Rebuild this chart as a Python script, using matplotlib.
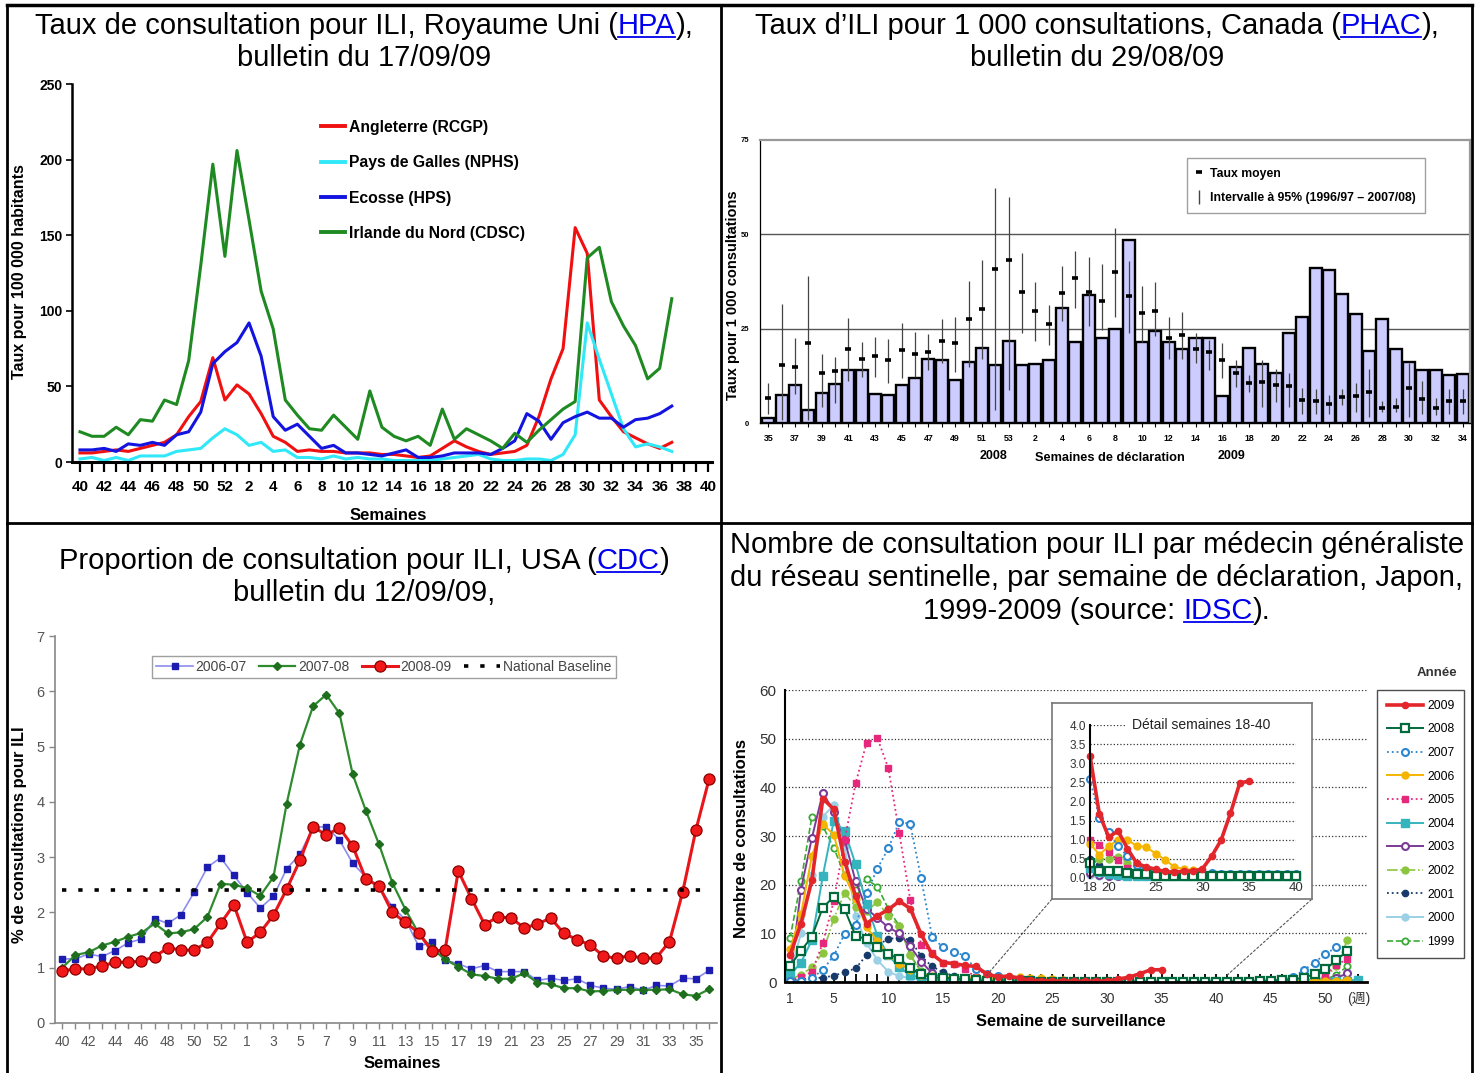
import numpy as np
import matplotlib
matplotlib.use('Agg')
import matplotlib.pyplot as plt
from matplotlib.lines import Line2D
from matplotlib.patches import ConnectionPatch, Rectangle

plt.rcParams['font.family'] = ['Liberation Sans', 'DejaVu Sans']
NARROW = ['Liberation Sans Narrow', 'Liberation Sans', 'Noto Sans CJK JP']

# ---------------- Royaume Uni (HPA) ----------------
uk_weeks = list(range(40, 53)) + list(range(1, 41))
uk_angleterre = [6, 6, 7, 8, 7, 9, 11, 13, 18, 30,
                 40, 69, 41, 51, 45, 32, 17, 13, 7, 8,
                 7, 7, 6, 6, 6, 5, 5, 4, 3, 4,
                 9, 14, 10, 7, 5, 6, 7, 11, 30, 55,
                 75, 155, 138, 41, 30, 20, 16, 12, 9, 13]
uk_galles = [2, 3, 1, 3, 1, 4, 4, 4, 7, 8,
             9, 16, 22, 18, 11, 13, 7, 8, 3, 3,
             2, 4, 2, 3, 2, 2, 1, 1, 1, 1,
             2, 3, 4, 5, 2, 1, 1, 2, 2, 1,
             5, 18, 92, 68, 45, 22, 10, 12, 10, 7]
uk_ecosse = [8, 8, 9, 7, 12, 11, 13, 11, 18, 20,
             33, 65, 73, 79, 92, 70, 30, 21, 25, 17,
             9, 11, 6, 6, 5, 4, 6, 8, 3, 3,
             4, 6, 6, 6, 5, 9, 14, 32, 27, 15,
             26, 30, 33, 29, 29, 23, 28, 29, 32, 37]
uk_irlande = [20, 17, 17, 23, 18, 28, 27, 41, 38, 67,
              130, 197, 136, 206, 160, 113, 88, 41, 31, 22,
              21, 31, 23, 15, 47, 23, 17, 14, 17, 11,
              35, 15, 22, 18, 14, 9, 19, 13, 21, 28,
              35, 40, 135, 142, 106, 90, 77, 55, 62, 108]
uk_labels = ['Angleterre (RCGP)', 'Pays de Galles (NPHS)', 'Ecosse (HPS)', 'Irlande du Nord (CDSC)']

# ---------------- Canada (PHAC) ----------------
ca_weeks = list(range(35, 54)) + list(range(1, 35))
ca_rate = [1.4, 7.4, 10.2, 3.4, 8.0, 10.3, 14.0, 14.0, 7.6, 7.4,
           10.0, 12.0, 17.0, 16.7, 11.3, 16.2, 19.8, 15.4, 21.7, 15.5,
           15.6, 16.7, 30.5, 21.5, 33.8, 22.6, 24.8, 48.5, 21.5, 24.3,
           21.5, 19.7, 22.6, 22.4, 7.1, 14.8, 19.8, 15.6, 13.3, 23.9,
           28.2, 41.2, 40.5, 34.3, 29.0, 19.1, 27.5, 19.7, 16.2, 14.0,
           14.0, 12.7, 12.9]
ca_mean = [6.6, 15.5, 14.9, 21.1, 13.3, 13.8, 19.6, 16.9, 17.8, 16.7,
           19.4, 18.2, 18.7, 21.6, 21.1, 27.5, 30.2, 40.7, 43.3, 34.6,
           29.6, 26.3, 34.4, 38.3, 34.8, 32.3, 40.1, 33.6, 29.1, 29.6,
           22.6, 23.2, 19.5, 18.7, 16.6, 13.2, 10.6, 10.8, 10.2, 9.8,
           6.2, 5.8, 5.0, 6.9, 7.2, 8.2, 4.0, 4.3, 9.2, 6.4,
           4.0, 5.9, 5.9]
ca_low = [2.5, 0.7, 7.8, 0.7, 4.3, 5.2, 11.2, 12.3, 12.3, 10.5,
          11.8, 12.3, 14.0, 15.8, 13.6, 14.9, 16.9, 3.4, 8.7, 23.8,
          21.6, 20.7, 26.9, 30.5, 25.6, 24.7, 28.0, 23.8, 21.5, 23.1,
          17.0, 17.0, 15.8, 14.0, 11.8, 9.6, 8.3, 4.3, 5.6, 4.3,
          2.5, 2.5, 2.5, 4.7, 2.9, 1.6, 2.9, 2.9, 1.6, 2.5,
          2.0, 2.5, 2.5]
ca_high = [10.5, 31.6, 22.6, 38.9, 18.3, 17.4, 27.8, 21.4, 22.7, 22.2,
           26.6, 24.2, 23.6, 27.6, 28.1, 37.6, 43.2, 62.4, 60.0, 45.1,
           37.3, 31.3, 41.6, 45.6, 44.0, 42.1, 51.6, 42.9, 36.4, 37.3,
           28.1, 29.5, 23.8, 21.9, 21.1, 16.7, 12.7, 16.7, 14.2, 13.3,
           9.4, 9.1, 7.3, 9.1, 10.7, 14.2, 5.9, 6.7, 15.8, 11.2,
           6.7, 8.9, 9.1]

# ---------------- USA (CDC) ----------------
us_weeks = list(range(40, 54)) + list(range(1, 37))
us_2006 = [1.16, 1.16, 1.25, 1.2, 1.31, 1.45, 1.52, 1.89, 1.8, 1.96,
           2.37, 2.82, 2.99, 2.67, 2.36, 2.08, 2.29, 2.79, 3.05, 3.54,
           3.55, 3.31, 2.89, 2.64, 2.47, 2.1, 1.87, 1.39, 1.46, 1.14,
           1.07, 0.98, 1.04, 0.93, 0.93, 0.93, 0.77, 0.81, 0.77, 0.8,
           0.68, 0.63, 0.61, 0.66, 0.59, 0.68, 0.67, 0.81, 0.8, 0.95]
us_2007 = [1.0, 1.23, 1.28, 1.4, 1.47, 1.56, 1.63, 1.8, 1.62, 1.64,
           1.7, 1.92, 2.52, 2.5, 2.44, 2.3, 2.64, 3.97, 5.03, 5.73,
           5.94, 5.6, 4.5, 3.84, 3.23, 2.54, 2.05, 1.62, 1.35, 1.15,
           1.02, 0.88, 0.85, 0.8, 0.8, 0.9, 0.73, 0.7, 0.63, 0.63,
           0.57, 0.58, 0.6, 0.6, 0.6, 0.6, 0.61, 0.52, 0.49, 0.61]
us_2008 = [0.94, 0.98, 0.98, 1.03, 1.1, 1.1, 1.12, 1.2, 1.36, 1.32,
           1.32, 1.46, 1.8, 2.14, 1.46, 1.64, 1.95, 2.42, 2.94, 3.55,
           3.4, 3.53, 3.2, 2.6, 2.48, 2.0, 1.82, 1.63, 1.3, 1.32,
           2.75, 2.25, 1.78, 1.92, 1.9, 1.72, 1.79, 1.9, 1.62, 1.51,
           1.41, 1.21, 1.17, 1.22, 1.17, 1.18, 1.47, 2.37, 3.49, 4.41]
us_baseline = 2.4

# ---------------- Japon (IDSC) ----------------
jp_weeks = list(range(1, 54))
jp_2009 = [5.5, 12.0, 20.9, 37.7, 35.5, 24.7, 17.7, 12.0, 13.6, 14.9,
           16.6, 15.1, 9.8, 5.7, 4.0, 3.8, 3.4, 3.2, 1.67, 1.07,
           1.23, 0.77, 0.38, 0.29, 0.23, 0.17, 0.15, 0.18, 0.18, 0.24,
           0.57, 0.99, 1.69, 2.49, 2.53]
jp_2008 = [3.3, 6.4, 9.3, 15.3, 17.5, 14.9, 9.5, 8.8, 7.2, 5.7,
           4.8, 2.9, 1.6, 0.9, 0.9, 0.7, 0.6, 0.4, 0.18, 0.18,
           0.18, 0.13, 0.11, 0.1, 0.06, 0.05, 0.04, 0.04, 0.04, 0.04,
           0.04, 0.04, 0.04, 0.04, 0.04, 0.04, 0.04, 0.04, 0.04, 0.04,
           0.05, 0.05, 0.1, 0.2, 0.3, 0.4, 0.5, 0.9, 1.6, 2.6,
           4.5, 6.4]
jp_2007 = [0.2, 0.3, 0.8, 2.5, 5.4, 9.9, 11.7, 18.3, 23.3, 27.5,
           32.9, 32.5, 21.3, 9.3, 7.1, 6.2, 5.4, 2.58, 1.58, 1.2,
           0.83, 0.57, 0.33, 0.22, 0.18, 0.15, 0.12, 0.12, 0.12, 0.12,
           0.12, 0.1, 0.1, 0.1, 0.1, 0.1, 0.1, 0.1, 0.1, 0.1,
           0.1, 0.1, 0.1, 0.2, 0.3, 0.5, 1.0, 2.4, 4.0, 5.8,
           7.1, 6.3]
jp_2006 = [6.8, 13.9, 25.9, 32.4, 30.3, 21.8, 17.0, 11.2, 8.5, 5.5,
           3.8, 2.5, 1.5, 1.2, 1.0, 0.9, 0.9, 0.9, 0.61, 0.83,
           1.0, 0.99, 0.84, 0.81, 0.64, 0.48, 0.29, 0.24, 0.2, 0.12,
           0.1, 0.08, 0.06, 0.05, 0.05, 0.05, 0.05, 0.05, 0.05, 0.05,
           0.05, 0.05, 0.05, 0.05, 0.1, 0.1, 0.15, 0.2, 0.25, 0.3,
           0.3, 0.4]
jp_2005 = [0.3, 1.0, 2.1, 8.0, 16.6, 29.2, 40.8, 49.1, 50.1, 43.9,
           30.6, 16.9, 7.7, 6.0, 4.0, 3.6, 2.6, 1.0, 0.85, 0.68,
           0.46, 0.25, 0.1, 0.08, 0.06, 0.05, 0.05, 0.05, 0.05, 0.05,
           0.05, 0.05, 0.05, 0.05, 0.05, 0.05, 0.05, 0.05, 0.05, 0.05,
           0.05, 0.05, 0.05, 0.05, 0.05, 0.1, 0.1, 0.2, 0.5, 1.5,
           3.4, 4.8]
jp_2004 = [1.4, 4.0, 8.6, 21.8, 33.1, 31.0, 24.2, 16.0, 9.5, 5.5,
           3.0, 1.5, 0.8, 0.5, 0.4, 0.3, 0.3, 0.25, 0.15, 0.1,
           0.08, 0.06, 0.05, 0.05, 0.05, 0.05, 0.05, 0.05, 0.05, 0.05,
           0.05, 0.05, 0.05, 0.05, 0.05, 0.05, 0.05, 0.05, 0.05, 0.05,
           0.05, 0.05, 0.05, 0.05, 0.05, 0.05, 0.05, 0.05, 0.1, 0.1,
           0.2, 0.3, 0.5]
jp_2003 = [0.8, 19.0, 29.6, 38.9, 35.0, 29.2, 20.7, 15.0, 13.2, 11.2,
           10.0, 7.3, 4.2, 1.8, 0.8, 0.5, 0.3, 0.12, 0.08, 0.06,
           0.05, 0.05, 0.05, 0.05, 0.05, 0.05, 0.05, 0.05, 0.05, 0.05,
           0.05, 0.05, 0.05, 0.05, 0.05, 0.05, 0.05, 0.05, 0.05, 0.05,
           0.05, 0.05, 0.05, 0.05, 0.05, 0.05, 0.1, 0.1, 0.2, 0.3,
           0.8, 1.8]
jp_2002 = [0.5, 1.5, 3.0, 6.0, 13.0, 18.3, 15.5, 14.5, 16.5, 13.5,
           11.5, 5.5, 2.0, 1.0, 0.7, 0.6, 0.5, 0.4, 0.5, 0.5,
           0.55, 0.4, 0.2, 0.1, 0.08, 0.05, 0.05, 0.05, 0.05, 0.05,
           0.05, 0.05, 0.05, 0.05, 0.05, 0.05, 0.05, 0.05, 0.05, 0.05,
           0.05, 0.05, 0.05, 0.05, 0.05, 0.05, 0.1, 0.2, 0.4, 1.0,
           3.2, 8.6]
jp_2001 = [0.3, 0.5, 0.8, 0.9, 1.3, 2.0, 2.8, 5.5, 7.5, 8.9,
           9.0, 8.7, 5.3, 3.2, 2.0, 1.2, 0.8, 0.5, 0.35, 0.2,
           0.1, 0.08, 0.05, 0.05, 0.05, 0.05, 0.05, 0.05, 0.05, 0.05,
           0.05, 0.05, 0.05, 0.05, 0.05, 0.05, 0.05, 0.05, 0.05, 0.05,
           0.05, 0.05, 0.05, 0.05, 0.05, 0.05, 0.05, 0.05, 0.1, 0.1,
           0.2, 0.3]
jp_2000 = [1.5, 10.0, 22.0, 34.0, 36.3, 28.0, 13.5, 8.0, 4.5, 2.1,
           1.2, 0.8, 0.5, 0.3, 0.2, 0.2, 0.1, 0.08, 0.05, 0.05,
           0.05, 0.05, 0.05, 0.05, 0.05, 0.05, 0.05, 0.05, 0.05, 0.05,
           0.05, 0.05, 0.05, 0.05, 0.05, 0.05, 0.05, 0.05, 0.05, 0.05,
           0.05, 0.05, 0.05, 0.05, 0.05, 0.05, 0.05, 0.05, 0.1, 0.1,
           0.2, 0.3]
jp_1999 = [9.0, 20.7, 34.0, 32.0, 27.6, 22.0, 19.0, 21.1, 19.6, 15.0,
           11.5, 5.5, 2.2, 0.8, 0.5, 0.4, 0.3, 0.2, 0.15, 0.1,
           0.05, 0.05, 0.05, 0.05, 0.05, 0.05, 0.05, 0.05, 0.05, 0.05,
           0.05, 0.05, 0.05, 0.05, 0.05, 0.05, 0.05, 0.05, 0.05, 0.05,
           0.05, 0.05, 0.05, 0.05, 0.05, 0.05, 0.05, 0.1, 0.2, 0.5,
           1.5, 3.2]
jp_detail_first, jp_detail_last = 18, 40

W, H = 1478, 1073
fig = plt.figure(figsize=(W / 100, H / 100), dpi=100)
renderer = fig.canvas.get_renderer()


def px_axes(x0, y0, x1, y1):
    """Axes placed from a pixel box (origin top-left)."""
    return fig.add_axes([x0 / W, 1 - y1 / H, (x1 - x0) / W, (y1 - y0) / H])


def text_width(s, size):
    t = fig.text(0, 0, s, fontsize=size)
    w = t.get_window_extent(renderer).width
    t.remove()
    return w


def title_line(xc, y, before, link='', after='', size=21):
    """Centered title line, with an optional blue underlined link in it."""
    full = before + link + after
    x0 = xc - text_width(full, size) / 2
    yf = 1 - y / H
    fig.text(x0 / W, yf, before, fontsize=size, va='baseline')
    if link:
        xl = x0 + text_width(before + link, size) - text_width(link, size)
        wl = text_width(link, size)
        fig.text(xl / W, yf, link, fontsize=size, va='baseline', color='#0000ee')
        fig.add_artist(Line2D([xl / W, (xl + wl) / W], [1 - (y + 3) / H] * 2,
                              transform=fig.transFigure, color='#0000ee', lw=1.3))
        xa = x0 + text_width(full, size) - text_width(after, size)
        fig.text(xa / W, yf, after, fontsize=size, va='baseline')


def frame_line(x0, y0, x1, y1, lw=2.0):
    fig.add_artist(Line2D([x0 / W, x1 / W], [1 - y0 / H, 1 - y1 / H],
                          transform=fig.transFigure, color='black', lw=lw))


# cadre du tableau
frame_line(7, 5, 1472, 5, lw=2.5)
frame_line(7, 5, 7, H)
frame_line(1472, 5, 1472, H)
frame_line(721, 5, 721, H)
frame_line(7, 523, 1472, 523)

# titres
title_line(364, 34, 'Taux de consultation pour ILI, Royaume Uni (', 'HPA', '),')
title_line(364, 66, 'bulletin du 17/09/09')
title_line(1097, 34, 'Taux d\u2019ILI pour 1 000 consultations, Canada (', 'PHAC', '),')
title_line(1097, 66, 'bulletin du 29/08/09')
title_line(364, 569, 'Proportion de consultation pour ILI, USA (', 'CDC', ')')
title_line(364, 601, 'bulletin du 12/09/09,')
title_line(1097, 553, 'Nombre de consultation pour ILI par m\u00e9decin g\u00e9n\u00e9raliste')
title_line(1097, 586, 'du r\u00e9seau sentinelle, par semaine de d\u00e9claration, Japon,')
title_line(1097, 619, '1999-2009 (source: ', 'IDSC', ').')

# ---------------- Panel 1 : Royaume Uni ----------------
ax1 = px_axes(72, 84, 712, 462)
x_uk = np.arange(len(uk_weeks))
for vals, col, lab in zip([uk_angleterre, uk_galles, uk_ecosse, uk_irlande],
                          ['#f01010', '#30e8f8', '#1414e0', '#1f8a22'], uk_labels):
    ax1.plot(np.arange(len(vals)), vals, color=col, lw=2.2, label=lab)
ax1.set_xlim(-0.66, 52.33)
ax1.set_ylim(0, 250)
ax1.set_yticks(range(0, 251, 50))
ax1.set_xticks(x_uk)
ax1.set_xticklabels([str(w) if i % 2 == 0 else '' for i, w in enumerate(uk_weeks)],
                    fontsize=11, fontweight='bold', family=NARROW)
for lbl in ax1.get_yticklabels():
    lbl.set_fontweight('bold')
    lbl.set_fontsize(10)
    lbl.set_family(NARROW)
for s in ['top', 'right']:
    ax1.spines[s].set_visible(False)
ax1.spines['left'].set_linewidth(1.8)
ax1.spines['bottom'].set_linewidth(2.2)
ax1.tick_params(axis='x', length=7, width=1.6, pad=6)
ax1.tick_params(axis='y', length=4, width=1.2, pad=3)
leg = ax1.legend(loc='upper left', bbox_to_anchor=(0.38, 0.922), frameon=False,
                 handlelength=1.5, handletextpad=0.25, labelspacing=1.3,
                 borderaxespad=0, prop={'weight': 'bold', 'size': 11.3})
for h in leg.get_lines():
    h.set_linewidth(2.8)
fig.text(20 / W, 1 - 272 / H, 'Taux pour 100 000 habitants', rotation=90, fontsize=11.5,
         fontweight='bold', ha='center', va='center')
fig.text(388 / W, 1 - 515 / H, 'Semaines', fontsize=12, fontweight='bold',
         ha='center', va='center')

# ---------------- Panel 2 : Canada ----------------
ax2 = px_axes(760, 140, 1470, 423)
x_ca = np.arange(len(ca_weeks))
ax2.axhline(25, color='#555555', lw=1.0, zorder=1)
ax2.axhline(50, color='#555555', lw=1.0, zorder=1)
ax2.bar(x_ca, ca_rate, width=0.9, color='#ccccff', edgecolor='black', lw=1.7, zorder=2)
ax2.vlines(x_ca, ca_low, ca_high, color='#444444', lw=0.9, zorder=3)
ax2.plot(x_ca, ca_mean, ls='none', marker='_', ms=5, mew=2.6, color='black', zorder=4)
ax2.set_xlim(-0.62, 52.56)
ax2.set_ylim(0, 75)
ax2.set_yticks([0, 25, 50, 75])
ax2.set_xticks(x_ca)
ax2.set_xticklabels([str(w) if i % 2 == 0 else '' for i, w in enumerate(ca_weeks)],
                    fontsize=6.3, fontweight='bold')
for lbl in ax2.get_yticklabels():
    lbl.set_fontweight('bold')
    lbl.set_fontsize(5.5)
for s in ['top', 'right']:
    ax2.spines[s].set_color('#999999')
    ax2.spines[s].set_linewidth(1.6)
ax2.spines['left'].set_linewidth(0.9)
ax2.spines['bottom'].set_linewidth(1.0)
ax2.tick_params(axis='x', length=3, width=0.8, pad=5)
ax2.tick_params(axis='y', length=0, pad=8)
ca_handles = [Line2D([], [], ls='none', marker='_', ms=5, mew=2.6, color='black'),
              Line2D([], [], ls='none', marker='|', ms=10, mew=1.0, color='#444444')]
ax2.legend(ca_handles, ['Taux moyen', 'Intervalle \u00e0 95% (1996/97 \u2013 2007/08)'],
           loc='upper right', bbox_to_anchor=(0.937, 0.935), frameon=True,
           fancybox=False, edgecolor='#888888', handlelength=0.6, handletextpad=0.6,
           borderpad=0.75, labelspacing=1.0, borderaxespad=0,
           prop={'weight': 'bold', 'size': 8.8})
fig.text(733 / W, 1 - 295 / H, 'Taux pour 1 000 consultations', rotation=90, fontsize=10.5,
         fontweight='bold', ha='center', va='center')
fig.text(993 / W, 1 - 456 / H, '2008', fontsize=9, fontweight='bold', ha='center', va='center')
fig.text(1110 / W, 1 - 458 / H, 'Semaines de d\u00e9claration', fontsize=9.2,
         fontweight='bold', ha='center', va='center')
fig.text(1231 / W, 1 - 456 / H, '2009', fontsize=9, fontweight='bold', ha='center', va='center')

# ---------------- Panel 3 : USA ----------------
ax3 = px_axes(55, 636, 717, 1023)
x_us = np.arange(len(us_weeks))
ax3.plot(x_us, us_2006, color='#8c8cf0', lw=1.2, marker='s', ms=5,
         mfc='#1c1cb0', mec='#1c1cb0', label='2006-07')
ax3.plot(x_us, us_2007, color='#2e8b2e', lw=1.6, marker='D', ms=3.6,
         mfc='#1e6e1e', mec='#1e6e1e', label='2007-08')
ax3.plot(x_us, us_2008, color='#e8161b', lw=2.2, marker='o', ms=8,
         mfc='#f01818', mec='#8b0000', mew=0.9, label='2008-09')
ax3.plot(x_us, np.full(len(x_us), us_baseline), color='black', lw=2.6,
         ls=(0, (1.2, 3.3)), label='National Baseline')
ax3.set_xlim(-0.55, 49.6)
ax3.set_ylim(0, 7)
ax3.set_yticks(range(0, 8))
ax3.set_xticks(x_us)
ax3.set_xticklabels([str(w) if i % 2 == 0 else '' for i, w in enumerate(us_weeks)],
                    fontsize=10, color='#555555', family=NARROW)
for lbl in ax3.get_yticklabels():
    lbl.set_fontsize(10.5)
    lbl.set_color('#555555')
    lbl.set_family(NARROW)
for s in ['top', 'right']:
    ax3.spines[s].set_visible(False)
for s in ['left', 'bottom']:
    ax3.spines[s].set_color('#888888')
    ax3.spines[s].set_linewidth(1.2)
ax3.tick_params(axis='both', color='#888888', length=4, width=1.0)
ax3.tick_params(axis='x', pad=5)
leg3 = ax3.legend(loc='upper center', bbox_to_anchor=(0.497, 0.948), ncol=4,
                  frameon=True, fancybox=False, edgecolor='#888888', handlelength=2.6,
                  handletextpad=0.2, columnspacing=0.9, borderpad=0.3, borderaxespad=0,
                  prop={'family': NARROW, 'size': 10})
for t in leg3.get_texts():
    t.set_color('#444444')
fig.text(20 / W, 1 - 835 / H, '% de consultations pour ILI', rotation=90, fontsize=12,
         fontweight='bold', ha='center', va='center')
fig.text(402 / W, 1 - 1064 / H, 'Semaines', fontsize=12, fontweight='bold',
         ha='center', va='center')

# ---------------- Panel 4 : Japon ----------------
jp_series = [
    ('1999', jp_1999, dict(color='#3aa935', ls='--', lw=1.2, marker='o', ms=4.5, mfc='white', mew=1.3)),
    ('2000', jp_2000, dict(color='#9bd0e6', ls='-', lw=1.4, marker='o', ms=5)),
    ('2001', jp_2001, dict(color='#183a6b', ls=':', lw=1.3, marker='o', ms=4.5)),
    ('2002', jp_2002, dict(color='#8cc63f', ls='-.', lw=1.2, marker='o', ms=5)),
    ('2003', jp_2003, dict(color='#7b3a96', ls='-', lw=1.4, marker='o', ms=5, mfc='white', mew=1.5)),
    ('2004', jp_2004, dict(color='#36b4be', ls='-', lw=1.4, marker='s', ms=5.5)),
    ('2005', jp_2005, dict(color='#e6287c', ls=':', lw=1.3, marker='s', ms=5)),
    ('2006', jp_2006, dict(color='#f5b400', ls='-', lw=1.4, marker='o', ms=5)),
    ('2007', jp_2007, dict(color='#2a86cf', ls=':', lw=1.3, marker='o', ms=5, mfc='white', mew=1.5)),
    ('2008', jp_2008, dict(color='#006a3c', ls='-', lw=1.4, marker='s', ms=6, mfc='white', mew=1.6)),
    ('2009', jp_2009, dict(color='#e3262c', ls='-', lw=2.6, marker='o', ms=4.5)),
]

ax4 = px_axes(785, 690, 1367, 982)
handles = {}
for year, vals, style in jp_series:
    line, = ax4.plot(jp_weeks[:len(vals)], vals, label=year, **style)
    handles[year] = line
ax4.set_xlim(0.54, 53.8)
ax4.set_ylim(0, 60)
ax4.set_yticks(range(0, 61, 10))
ax4.set_xticks(jp_weeks)
ax4.set_xticklabels(['(\u9031)' if w == jp_weeks[-1] else (str(w) if w == 1 or w % 5 == 0 else '')
                     for w in jp_weeks], fontsize=10, family=NARROW, color='#333333')
for lbl in ax4.get_yticklabels():
    lbl.set_fontsize(11)
    lbl.set_family(NARROW)
    lbl.set_color('#333333')
ax4.yaxis.grid(True, ls=':', color='#333333', lw=0.9)
ax4.set_axisbelow(True)
for s in ['top', 'right']:
    ax4.spines[s].set_visible(False)
ax4.spines['left'].set_linewidth(1.5)
ax4.spines['bottom'].set_linewidth(2.0)
ax4.tick_params(axis='x', direction='in', length=6, width=1.3, pad=7)
ax4.tick_params(axis='y', length=0, pad=6)
order = [s[0] for s in jp_series][::-1]
ax4.legend([handles[y] for y in order], order, loc='upper left',
           bbox_to_anchor=((1377 - 785) / 582, 1.0), frameon=True, fancybox=False,
           edgecolor='#222222', handlelength=3.0, handletextpad=0.3, labelspacing=0.95,
           borderpad=0.8, borderaxespad=0, prop={'family': NARROW, 'size': 8.8})
fig.text(1437 / W, 1 - 673 / H, 'Ann\u00e9e', fontsize=9.5, fontweight='bold',
         color='#333333', ha='center', va='center')
fig.text(741 / W, 1 - 838 / H, 'Nombre de consultations', rotation=90, fontsize=12,
         fontweight='bold', ha='center', va='center')
fig.text(1071 / W, 1 - 1021 / H, 'Semaine de surveillance', fontsize=11.8,
         fontweight='bold', ha='center', va='center')

# encadre "detail semaines 18-40"
box = px_axes(1052, 703, 1312, 899)
box.set_xticks([])
box.set_yticks([])
for s in box.spines.values():
    s.set_color('#777777')
    s.set_linewidth(1.2)
box.set_zorder(5)

ins = px_axes(1090, 725, 1296, 878)
ins.set_zorder(6)
ins.patch.set_alpha(0)
for year, vals, style in jp_series:
    wk = [w for w in jp_weeks[:len(vals)] if jp_detail_first <= w <= jp_detail_last]
    vv = [v for w, v in zip(jp_weeks, vals) if jp_detail_first <= w <= jp_detail_last]
    ins.plot(wk, vv, clip_on=False, **style)
ins.set_xlim(jp_detail_first, jp_detail_last)
ins.set_ylim(0, 4.0)
ins.set_yticks(np.arange(0, 4.01, 0.5))
ins.set_yticklabels(['%.1f' % v for v in np.arange(0, 4.01, 0.5)], fontsize=8.5,
                    family=NARROW, color='#333333')
ins.set_xticks([18, 20, 25, 30, 35, 40])
ins.set_xticklabels(['18', '20', '25', '30', '35', '40'], fontsize=9.5,
                    family=NARROW, color='#333333')
ins.yaxis.grid(True, ls=':', color='#333333', lw=0.9)
ins.set_axisbelow(True)
for s in ['top', 'right', 'bottom']:
    ins.spines[s].set_visible(False)
ins.spines['left'].set_linewidth(1.5)
ins.tick_params(length=0, pad=3)
# masque blanc derriere le titre de l'encadre
ins.add_patch(Rectangle((0.17, 0.95), 0.86, 0.1, transform=ins.transAxes,
                        facecolor='white', edgecolor='none', zorder=1, clip_on=False))
ins.text(0.54, 1.0, 'D\u00e9tail semaines 18-40', transform=ins.transAxes, fontsize=10,
         family=NARROW, color='#222222', ha='center', va='center', zorder=3)

for xa, xb in [(jp_detail_first + 1, 0), (jp_detail_last + 1, 1)]:
    con = ConnectionPatch(xyA=(xa, 1.4), coordsA=ax4.transData,
                          xyB=(xb, 0), coordsB=box.transAxes,
                          ls=(0, (2, 2)), color='#555555', lw=0.8)
    fig.add_artist(con)

fig.savefig('out.png', dpi=100)
